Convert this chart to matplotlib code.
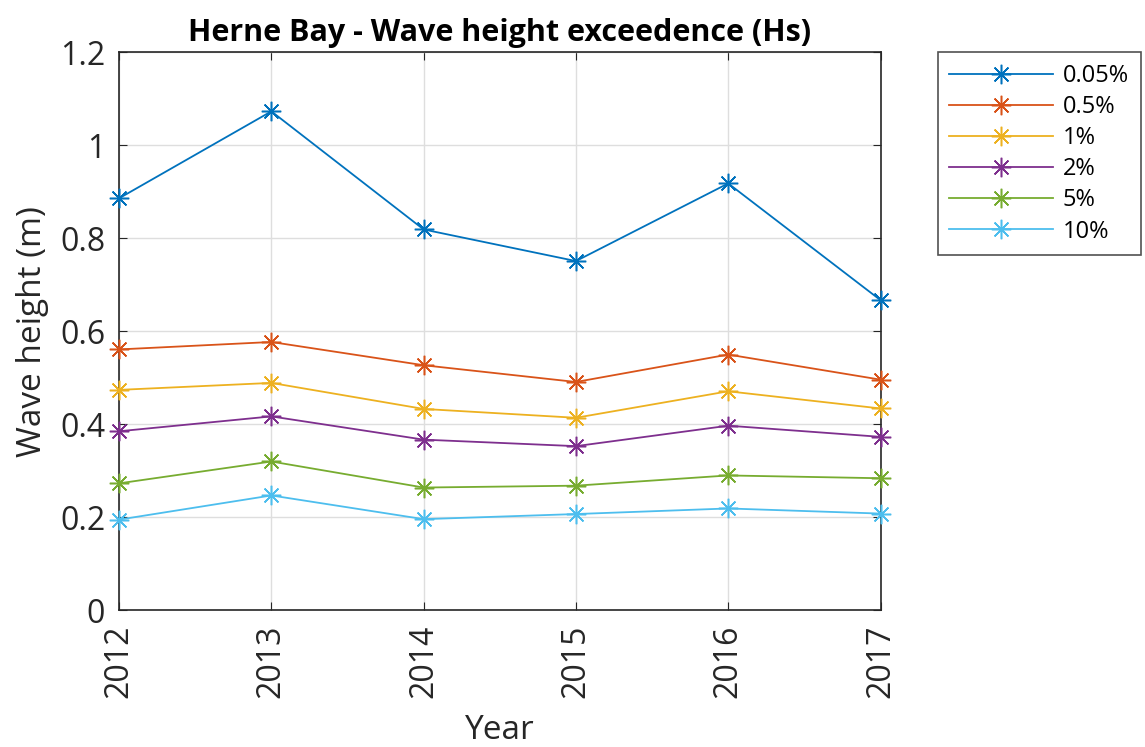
import numpy as np
import matplotlib.pyplot as plt

plt.rcParams['font.family'] = ['Open Sans', 'DejaVu Sans']

years = [2012, 2013, 2014, 2015, 2016, 2017]
labels = ['0.05%', '0.5%', '1%', '2%', '5%', '10%']
h_005 = [0.886, 1.073, 0.819, 0.751, 0.918, 0.667]
h_05 = [0.561, 0.577, 0.527, 0.491, 0.550, 0.496]
h_1 = [0.474, 0.489, 0.433, 0.414, 0.471, 0.434]
h_2 = [0.385, 0.417, 0.367, 0.353, 0.397, 0.373]
h_5 = [0.273, 0.320, 0.264, 0.268, 0.290, 0.284]
h_10 = [0.195, 0.247, 0.196, 0.207, 0.219, 0.208]
colors = ['#0072BD', '#D95319', '#EDB120', '#7E2F8E', '#77AC30', '#4DBEEE']

fig = plt.figure(figsize=(11.45, 7.47), dpi=100)
ax = fig.add_axes([0.104, 0.183, 0.665, 0.747])

for vals, lab, c in zip([h_005, h_05, h_1, h_2, h_5, h_10], labels, colors):
    ax.plot(years, vals, color=c, marker=(8, 2, 0), markersize=14,
            markeredgewidth=1.1, linewidth=1.3, label=lab, clip_on=False,
            zorder=3)

ax.set_xlim(2012, 2017)
ax.set_ylim(0, 1.2)
ax.set_xticks(years)
ax.set_xticklabels([str(y) for y in years], rotation=90)
ax.set_yticks(np.arange(0, 1.21, 0.2))
ax.set_yticklabels(['0', '0.2', '0.4', '0.6', '0.8', '1', '1.2'])
ax.tick_params(labelsize=23, direction='in', length=6, color='#262626',
               labelcolor='#262626', top=True, right=True)
ax.tick_params(axis='x', pad=10)
ax.tick_params(axis='y', pad=10)
ax.grid(True, color='#dedede', linewidth=1)
for s in ax.spines.values():
    s.set_color('#262626')
    s.set_linewidth(1.2)

ax.set_xlabel('Year', fontsize=24, color='#262626', labelpad=12)
ax.set_ylabel('Wave height (m)', fontsize=24, color='#262626', labelpad=8)
ax.set_title('Herne Bay - Wave height exceedence (Hs)', fontsize=22,
             fontweight='bold', pad=8)

leg = ax.legend(loc='upper left', bbox_to_anchor=(1.075, 1.0), fontsize=17,
                frameon=True, fancybox=False, edgecolor='#262626',
                handlelength=4.4, handletextpad=0.4, labelspacing=0.3,
                borderpad=0.5, borderaxespad=0)
leg.get_frame().set_linewidth(1.2)

fig.savefig('out.png', dpi=100)
